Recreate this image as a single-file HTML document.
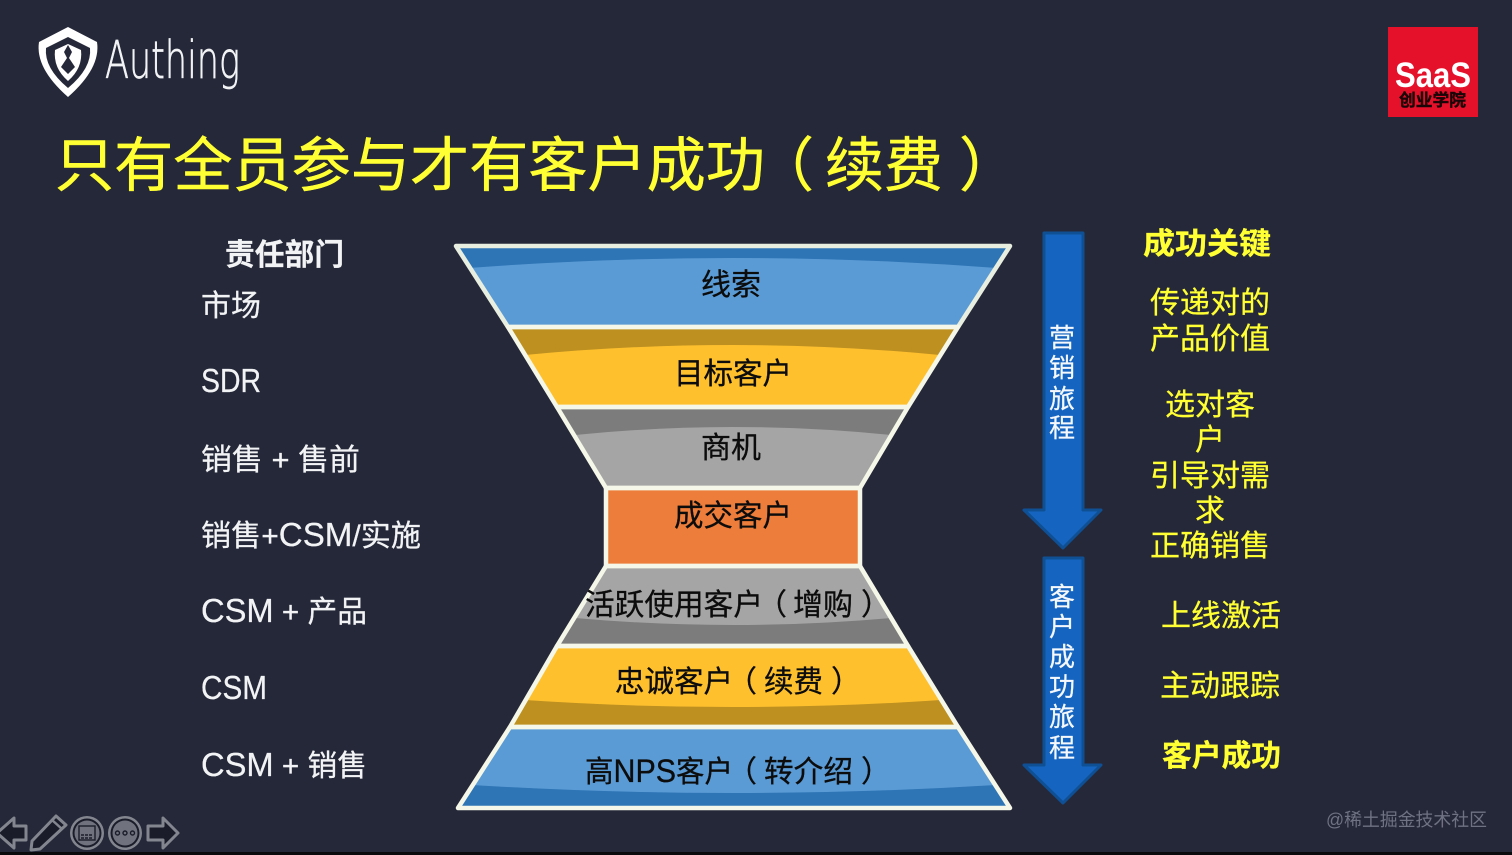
<!DOCTYPE html>
<html lang="zh"><head><meta charset="utf-8"><title>只有全员参与才有客户成功</title>
<style>html,body{margin:0;padding:0;background:#252839}svg{display:block}text{font-family:"Liberation Sans","Noto Sans CJK SC",sans-serif}</style></head>
<body>
<svg width="1512" height="855" viewBox="0 0 1512 855" xmlns="http://www.w3.org/2000/svg">
<rect width="1512" height="855" fill="#252839"/>
<rect y="852" width="1512" height="3" fill="#0a0a0c"/>

<!-- logo -->
<path d="M68 27 L97 42 Q101 68 68 97 Q35 68 39 42 Z" fill="#fff"/>
<path d="M68 37 L90 48 Q92 68 68 88 Q44 68 46 48 Z" fill="#252839"/>
<path d="M55 50 L68 44 L81 50 Q83 68 68 81 Q53 68 55 50 Z" fill="#fff"/>
<path d="M68 45 L72 52 L69 58 L75 67 L68 74 L61 67 L67 58 L64 52 Z" fill="#252839"/>
<text x="105" y="78" font-size="52" font-weight="200" fill="#f2f3f5" stroke="#f2f3f5" stroke-width=".7" style="font-family:'DejaVu Sans',sans-serif" textLength="135" lengthAdjust="spacingAndGlyphs">Authing</text>

<!-- SaaS -->
<rect x="1388" y="27" width="90" height="90" fill="#e5112a"/>
<text x="1395" y="87" font-size="35" font-weight="700" fill="#fff" textLength="76" lengthAdjust="spacingAndGlyphs">SaaS</text>
<text x="1399" y="106" font-size="17" font-weight="700" fill="#1a0508" stroke="#1a0508" stroke-width=".4" textLength="67" lengthAdjust="spacingAndGlyphs">创业学院</text>

<!-- title -->
<g fill="#ffff33" stroke="#ffff33" stroke-width=".5" font-size="59">
<text x="55" y="186" textLength="710" lengthAdjust="spacingAndGlyphs">只有全员参与才有客户成功</text>
<text x="755" y="186">（</text>
<text x="825" y="186" textLength="118" lengthAdjust="spacingAndGlyphs">续费</text>
<text x="959" y="186">）</text>
</g>

<!-- left column -->
<g fill="#f2f3f5" stroke="#f2f3f5" stroke-width=".25" font-size="30">
<text x="225" y="265" font-weight="700" textLength="119" lengthAdjust="spacingAndGlyphs">责任部门</text>
<text x="201" y="316" textLength="60" lengthAdjust="spacingAndGlyphs">市场</text>
<text x="201" y="392" font-size="33" textLength="60" lengthAdjust="spacingAndGlyphs">SDR</text>
<text x="201" y="470" textLength="159" lengthAdjust="spacingAndGlyphs">销售 + 售前</text>
<text x="201" y="546" textLength="220" lengthAdjust="spacingAndGlyphs">销售+<tspan font-size="33">CSM</tspan>/实施</text>
<text x="201" y="622" textLength="166" lengthAdjust="spacingAndGlyphs"><tspan font-size="33">CSM</tspan> + 产品</text>
<text x="201" y="699" font-size="33" textLength="66" lengthAdjust="spacingAndGlyphs">CSM</text>
<text x="201" y="776" textLength="166" lengthAdjust="spacingAndGlyphs"><tspan font-size="33">CSM</tspan> + 销售</text>
</g>

<!-- funnel fills -->
<polygon points="456,246 1010,246 958,327 508,327" fill="#5b9bd5"/>
<path d="M456,246 L1010,246 L997,268 Q733,248 469,268 Z" fill="#2e75b6"/>
<polygon points="508,327 958,327 908,407 557,407" fill="#ffc02e"/>
<path d="M508,327 L958,327 L940,355 Q733,335 525,355 Z" fill="#bd9020"/>
<polygon points="557,407 908,407 860,488 606,488" fill="#a5a5a5"/>
<path d="M557,407 L908,407 L891,435 Q733,419 575,435 Z" fill="#7c7c7c"/>
<rect x="606" y="488" width="254" height="78" fill="#ed7d3a"/>
<polygon points="606,566 860,566 908,646 557,646" fill="#a5a5a5"/>
<path d="M557,646 L908,646 L891,618 Q733,632 575,618 Z" fill="#7c7c7c"/>
<polygon points="557,646 908,646 958,727 510,727" fill="#ffc02e"/>
<path d="M510,727 L958,727 L941,700 Q733,714 525,700 Z" fill="#bd9020"/>
<polygon points="510,727 958,727 1010,808 458,808" fill="#5b9bd5"/>
<path d="M458,808 L1010,808 L996,785 Q733,801 472,785 Z" fill="#2e75b6"/>

<!-- funnel outlines -->
<g fill="none" stroke="#f5f7e8" stroke-width="4.5" stroke-linejoin="round">
<polygon points="456,246 1010,246 958,327 508,327" stroke="#e8eee0"/>
<polygon points="508,327 958,327 908,407 557,407"/>
<polygon points="557,407 908,407 860,488 606,488"/>
<rect x="606" y="488" width="254" height="78"/>
<polygon points="606,566 860,566 908,646 557,646"/>
<polygon points="557,646 908,646 958,727 510,727"/>
<polygon points="510,727 958,727 1010,808 458,808"/>
</g>

<!-- funnel labels -->
<g fill="#0c0c0c" stroke="#0c0c0c" stroke-width=".3" font-size="30">
<text x="701" y="295" textLength="60" lengthAdjust="spacingAndGlyphs">线索</text>
<text x="674" y="384" textLength="118" lengthAdjust="spacingAndGlyphs">目标客户</text>
<text x="701" y="458" textLength="60" lengthAdjust="spacingAndGlyphs">商机</text>
<text x="674" y="526" textLength="118" lengthAdjust="spacingAndGlyphs">成交客户</text>
<text x="585" y="615" textLength="178" lengthAdjust="spacingAndGlyphs">活跃使用客户</text>
<text x="757" y="615">（</text>
<text x="793" y="615" textLength="60" lengthAdjust="spacingAndGlyphs">增购</text>
<text x="861" y="615">）</text>
<text x="615" y="692" textLength="118" lengthAdjust="spacingAndGlyphs">忠诚客户</text>
<text x="727" y="692">（</text>
<text x="764" y="692" textLength="59" lengthAdjust="spacingAndGlyphs">续费</text>
<text x="831" y="692">）</text>
<text x="585" y="782" textLength="148" lengthAdjust="spacingAndGlyphs">高<tspan font-size="32">NPS</tspan>客户</text>
<text x="727" y="782">（</text>
<text x="764" y="782" textLength="89" lengthAdjust="spacingAndGlyphs">转介绍</text>
<text x="861" y="782">）</text>
</g>

<!-- arrows -->
<g fill="#1565c0" stroke="#0f4f94" stroke-width="3" stroke-linejoin="round">
<polygon points="1044,233 1083,233 1083,510 1101,510 1063,548 1024,510 1044,510"/>
<polygon points="1044,558 1083,558 1083,765 1101,765 1063,803 1024,765 1044,765"/>
</g>
<g fill="#f5f8fc" stroke="#f5f8fc" stroke-width=".25" font-size="26" text-anchor="middle">
<text x="1062" y="347">营</text>
<text x="1062" y="377">销</text>
<text x="1062" y="408">旅</text>
<text x="1062" y="437">程</text>
<text x="1062" y="606">客</text>
<text x="1062" y="636">户</text>
<text x="1062" y="666">成</text>
<text x="1062" y="696">功</text>
<text x="1062" y="726">旅</text>
<text x="1062" y="757">程</text>
</g>

<!-- right column -->
<g fill="#ffff33" stroke="#ffff33" stroke-width=".25" font-size="30">
<text x="1143" y="254" font-weight="700" textLength="128" lengthAdjust="spacingAndGlyphs">成功关键</text>
<text x="1150" y="313" textLength="120" lengthAdjust="spacingAndGlyphs">传递对的</text>
<text x="1150" y="349" textLength="120" lengthAdjust="spacingAndGlyphs">产品价值</text>
<text x="1165" y="415" textLength="90" lengthAdjust="spacingAndGlyphs">选对客</text>
<text x="1195" y="450">户</text>
<text x="1150" y="486" textLength="120" lengthAdjust="spacingAndGlyphs">引导对需</text>
<text x="1195" y="521">求</text>
<text x="1150" y="556" textLength="120" lengthAdjust="spacingAndGlyphs">正确销售</text>
<text x="1161" y="626" textLength="120" lengthAdjust="spacingAndGlyphs">上线激活</text>
<text x="1160" y="696" textLength="120" lengthAdjust="spacingAndGlyphs">主动跟踪</text>
<text x="1162" y="766" font-weight="700" textLength="119" lengthAdjust="spacingAndGlyphs">客户成功</text>
</g>

<!-- watermark -->
<text x="1326" y="826" font-size="18" fill="#6f7282" textLength="161" lengthAdjust="spacingAndGlyphs">@稀土掘金技术社区</text>

<!-- slideshow controls -->
<g fill="#1a1c2a" stroke="#84868f" stroke-width="3" stroke-linejoin="round">
<polygon points="14,818 -3,833 14,848 14,840 26,840 26,826 14,826"/>
<polygon points="163,818 178,833 163,848 163,840 148,840 148,826 163,826"/>
<path d="M56,816 L66,825 L40,849 L31,850 L32,841 Z"/>
</g>
<path d="M52,820 L62,829" stroke="#84868f" stroke-width="2.5" fill="none"/>
<g>
<circle cx="87" cy="833" r="17" fill="#84868f"/><circle cx="87" cy="833" r="14.5" fill="#1a1c2a"/><circle cx="87" cy="833" r="12.5" fill="#70727e"/>
<circle cx="125" cy="833" r="17" fill="#84868f"/><circle cx="125" cy="833" r="14.5" fill="#1a1c2a"/><circle cx="125" cy="833" r="12.5" fill="#70727e"/>
</g>
<g fill="none" stroke="#1a1c2a" stroke-width="1.4">
<rect x="79" y="826" width="16" height="14"/>
<path d="M81 835 H93 M81 838 H93" stroke-dasharray="3 1"/>
<circle cx="117.500" cy="833" r="2"/><circle cx="125" cy="833" r="2"/><circle cx="132.500" cy="833" r="2"/>
</g>
</svg>
</body></html>
